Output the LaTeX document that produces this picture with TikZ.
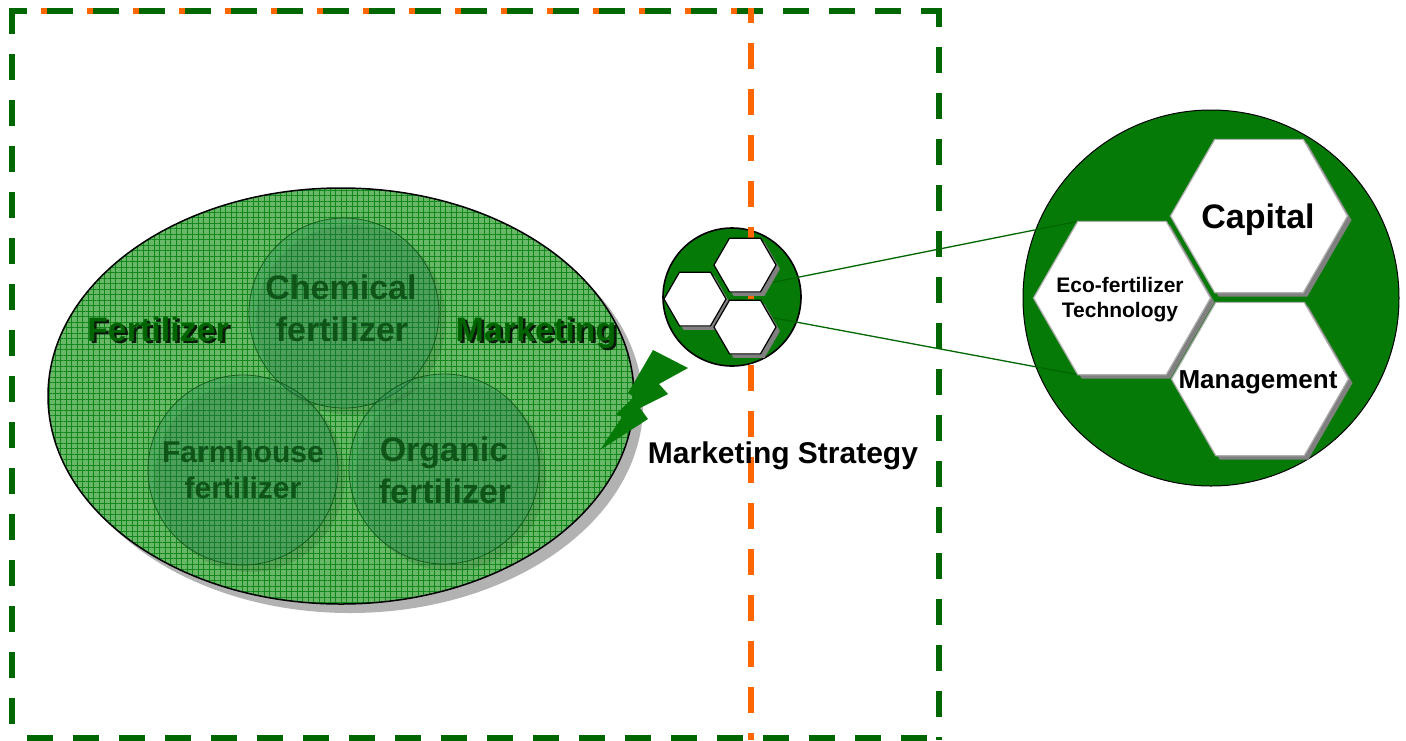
\documentclass[tikz,border=0pt]{standalone}
\usepackage{fontspec}
\setmainfont{Liberation Sans}
\usetikzlibrary{shapes.geometric,patterns.meta}
\definecolor{framegreen}{RGB}{0,102,0}
\definecolor{frameorange}{RGB}{255,102,0}
\definecolor{leafgreen}{RGB}{6,122,6}
\definecolor{meshbase}{RGB}{104,184,104}
\definecolor{meshline}{RGB}{18,135,28}
\definecolor{poolgreen}{RGB}{40,140,90}
\definecolor{inkgreen}{RGB}{10,78,18}
\definecolor{titlegreen}{RGB}{0,100,0}
\definecolor{hexshade}{RGB}{128,128,128}
\definecolor{hexedge}{RGB}{175,175,175}
\pgfdeclarelayer{links}
\pgfdeclarelayer{front}
\pgfsetlayers{main,links,front}

\begin{document}
\begin{tikzpicture}[x=1pt,y=-1pt,
  side/.style={line width=5.5pt, dash pattern=on 26pt off 20pt},
  gside/.style={side, draw=framegreen},
  oside/.style={side, draw=frameorange},
  pool/.style={circle, minimum size=190pt, inner sep=0pt, outer sep=0pt,
    draw=inkgreen, draw opacity=0.8, line width=0.8pt, fill=poolgreen, fill opacity=0.28},
  poolshade/.style={circle, minimum size=190pt, inner sep=0pt, outer sep=0pt,
    fill=black, fill opacity=0.1},
  pooltext/.style={anchor=base, inner sep=0pt, text=inkgreen, text opacity=0.9},
  bigword/.style={anchor=base, inner sep=0pt, font=\bfseries\fontsize{34}{40}\selectfont},
  hexcell/.style={regular polygon, regular polygon sides=6, inner sep=0pt, outer sep=0pt},
  smallhex/.style={hexcell, minimum size=62pt, fill=white, draw=black, line width=1.2pt},
  smallshade/.style={hexcell, minimum size=62pt, fill=hexshade},
  bighex/.style={hexcell, minimum size=177pt, fill=white, draw=hexedge, line width=1.2pt},
  bigshade/.style={hexcell, minimum size=177pt, fill=hexshade},
  link/.style={draw=framegreen, line width=1.3pt},
  label/.style={anchor=base, inner sep=0pt, text=black}
]
\useasboundingbox (0,0) rectangle (1406,740);

% ---- dashed frames (orange under green) ----
\draw[oside, dash phase=14.25pt] (9.25,11) -- (754,11);
\draw[oside, dash phase=0pt] (12,8.25) -- (12,740);
\draw[oside, dash phase=28.25pt] (9.25,738) -- (754,738);
\draw[gside, dash phase=8.25pt] (9.25,11) -- (942,11);
\draw[gside, dash phase=0pt] (12,8.25) -- (12,740);
\draw[gside, dash phase=7.25pt] (939,8.25) -- (939,740);
\draw[gside, dash phase=28.25pt] (9.25,738) -- (942,738);

% ---- fertilizer field ----
\node[ellipse, minimum width=586pt, minimum height=416pt, inner sep=0pt,
      fill=black!30] (fieldshade) at (350,405) {};
\node[ellipse, minimum width=586pt, minimum height=416pt, inner sep=0pt,
      fill=meshbase] (field) at (341,396) {};
\node[ellipse, minimum width=586pt, minimum height=416pt, inner sep=0pt,
      pattern={Hatch[distance=5.5pt, line width=0.7pt]}, pattern color=meshline,
      draw=black, line width=1.5pt] (fieldmesh) at (341,396) {};

% shadows of the three kinds
\node[poolshade] (chemshade) at (351,320) {};
\node[poolshade] (farmshade) at (250,477) {};
\node[poolshade] (orgshade)  at (451,476) {};
% the three kinds
\node[pool] (chem) at (344,313) {};
\node[pool] (farm) at (243,470) {};
\node[pool] (org)  at (444,469) {};

\node[pooltext, font=\bfseries\fontsize{34}{40}\selectfont] (chem1) at (341,299) {Chemical};
\node[pooltext, font=\bfseries\fontsize{34}{40}\selectfont] (chem2) at (342,341) {fertilizer};
\node[pooltext, font=\bfseries\fontsize{30}{36}\selectfont] (farm1) at (243,462) {Farmhouse};
\node[pooltext, font=\bfseries\fontsize{30}{36}\selectfont] (farm2) at (243,498) {fertilizer};
\node[pooltext, font=\bfseries\fontsize{34}{40}\selectfont] (org1) at (444,461) {Organic};
\node[pooltext, font=\bfseries\fontsize{34}{40}\selectfont] (org2) at (445,503) {fertilizer};

% headline words with drop shadow
\node[bigword, text=black, text opacity=0.85] (fertshade) at (160.5,343.5) {Fertilizer};
\node[bigword, text=titlegreen] (fert) at (158,341) {Fertilizer};
\node[bigword, text=black, text opacity=0.85] (markshade) at (538.5,343.5) {Marketing};
\node[bigword, text=titlegreen] (mark) at (536,341) {Marketing};

% ---- lightning bolt ----
\fill[leafgreen] (653,350) -- (688,368) -- (659,384) -- (668,394) -- (640,408)
  -- (648,419) -- (600,450) -- (622,417) -- (616,414) -- (634,397) -- (628,393) -- cycle;

% ---- strategy hub ----
\node[circle, minimum size=138pt, inner sep=0pt, fill=leafgreen, draw=black,
      line width=1.6pt] (hub) at (732,297) {};
\draw[oside, dash phase=11.25pt] (751,8.25) -- (751,740);

% ---- resource wheel ----
\node[circle, minimum size=376pt, inner sep=0pt, fill=leafgreen, draw=black,
      line width=1pt] (core) at (1211,298) {};

\begin{pgfonlayer}{front}
  % hub cells
  \node[smallshade] (h1shade) at (749,269) {};
  \node[smallshade] (h2shade) at (699,303) {};
  \node[smallshade] (h3shade) at (749,331) {};
  \node[smallhex] (h1) at (745,265) {};
  \node[smallhex] (h2) at (695,299) {};
  \node[smallhex] (h3) at (745,327) {};
  % wheel cells
  \node[bigshade] (capshade) at (1263,220) {};
  \node[bigshade] (ecoshade) at (1126,302) {};
  \node[bigshade] (manshade) at (1264,383) {};
  \node[bighex] (cap) at (1259,216) {};
  \node[bighex] (eco) at (1122,298) {};
  \node[bighex] (man) at (1260,379) {};
  % labels
  \node[label, font=\bfseries\fontsize{34}{40}\selectfont] (captxt) at (1258,228) {Capital};
  \node[label, font=\bfseries\fontsize{21}{25}\selectfont] (ecotxt1) at (1120,292) {Eco-fertilizer};
  \node[label, font=\bfseries\fontsize{21}{25}\selectfont] (ecotxt2) at (1120,317) {Technology};
  \node[label, font=\bfseries\fontsize{26}{30}\selectfont] (mantxt) at (1258,388) {Management};
  \node[label, font=\bfseries\fontsize{30}{36}\selectfont] (strat) at (783,463) {Marketing Strategy};
\end{pgfonlayer}

\begin{pgfonlayer}{links}
  \draw[link] (h1shade.-30) -- (eco.120);
  \draw[link] (h3shade.30) -- (eco.240);
\end{pgfonlayer}
\end{tikzpicture}
\end{document}
